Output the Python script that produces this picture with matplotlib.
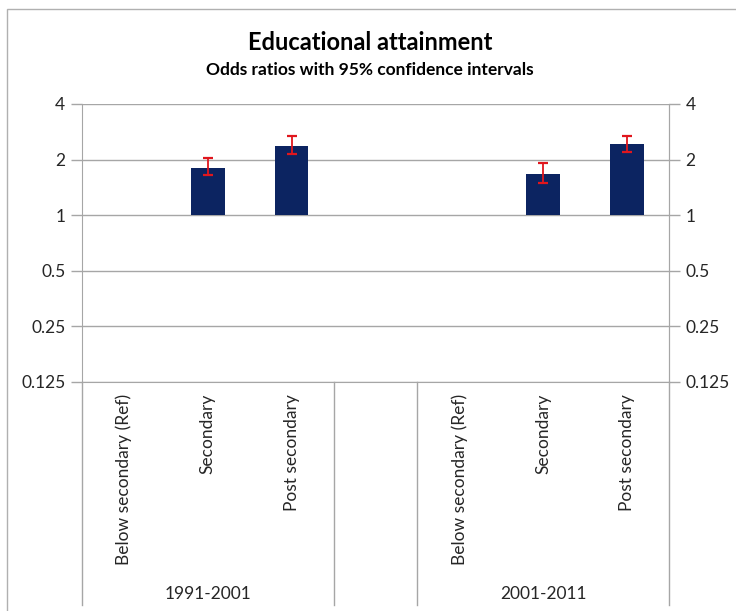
import matplotlib.pyplot as plt
import matplotlib.transforms as mtransforms
from matplotlib.patches import Rectangle
import numpy as np

plt.rcParams['font.family'] = ['Lato', 'DejaVu Sans']

# Odds ratios with 95% confidence intervals by period
periods = ['1991-2001', '2001-2011']
categories = ['Below secondary (Ref)', 'Secondary', 'Post secondary']
odds_1991 = [1.0, 1.80, 2.36]
low_1991 = [np.nan, 1.65, 2.14]
high_1991 = [np.nan, 2.04, 2.67]
odds_2001 = [1.0, 1.67, 2.43]
low_2001 = [np.nan, 1.49, 2.20]
high_2001 = [np.nan, 1.91, 2.67]
yticks = [0.125, 0.25, 0.5, 1, 2, 4]
ytick_labels = ['0.125', '0.25', '0.5', '1', '2', '4']

bar_color = '#0c2461'
err_color = '#e0161d'
line_color = '#a6a6a6'
text_color = '#262626'
label_size = 12.5

fig = plt.figure(figsize=(7.36, 6.11), dpi=100)
fig.patches.append(Rectangle((7 / 736, -0.05), 1.0, 1.05 - 9 / 611, transform=fig.transFigure,
                             fill=False, edgecolor='#b0b0b0', linewidth=1.0))

ax = fig.add_axes([82 / 736, 1 - 382 / 611, 587 / 736, 278 / 611])

# slot positions: three categories, a blank slot, three categories
x1 = np.arange(3)
x2 = np.arange(3) + 4
odds = np.array(odds_1991 + odds_2001)
low = np.array(low_1991 + low_2001)
high = np.array(high_1991 + high_2001)
xs = np.concatenate([x1, x2])

ax.bar(xs, odds - 1, bottom=1, width=0.4, color=bar_color, zorder=3)
yerr = np.vstack([odds - low, high - odds])
ax.errorbar(xs, odds, yerr=yerr, fmt='none', ecolor=err_color, elinewidth=1.3,
            capsize=3.5, capthick=1.6, zorder=4)

ax.set_yscale('log', base=2)
ax.set_ylim(0.125, 4)
ax.set_xlim(-0.5, 6.5)
ax.set_yticks(yticks)
ax.set_yticklabels(ytick_labels)
ax.minorticks_off()
ax.set_xticks([])
ax.grid(axis='y', color=line_color, linewidth=1.0, zorder=0)
ax.spines['top'].set_visible(False)
for s in ['left', 'right', 'bottom']:
    ax.spines[s].set_color(line_color)
ax.tick_params(axis='y', colors=line_color, labelcolor=text_color, labelsize=label_size,
               length=8, width=1.0, direction='out', pad=4)

axr = ax.twinx()
axr.set_yscale('log', base=2)
axr.set_ylim(0.125, 4)
axr.set_yticks(yticks)
axr.set_yticklabels(ytick_labels)
axr.minorticks_off()
for s in ['top', 'bottom', 'left']:
    axr.spines[s].set_visible(False)
axr.spines['right'].set_color(line_color)
axr.tick_params(axis='y', colors=line_color, labelcolor=text_color, labelsize=label_size,
                length=8, width=1.0, direction='out', pad=4)

# category axis below the plot
trans = mtransforms.blended_transform_factory(ax.transData, ax.transAxes)
bottom_y = -(605 - 382) / 278
for xb in [-0.5, 2.5, 3.5, 6.5]:
    ax.plot([xb, xb], [0, bottom_y], transform=trans, color=line_color,
            linewidth=1.0, clip_on=False)
for x, label in zip(xs, categories * 2):
    ax.text(x, -(394 - 382) / 278, label, transform=trans, rotation=90,
            ha='center', va='top', fontsize=label_size, color=text_color)
for x, label in zip([1, 5], periods):
    ax.text(x, -(594 - 382) / 278, label, transform=trans,
            ha='center', va='center', fontsize=label_size, color=text_color)

fig.text(0.503, 1 - 42 / 611, 'Educational attainment', ha='center', va='center',
         fontsize=17, fontweight='bold', color='black')
fig.text(0.503, 1 - 70 / 611, 'Odds ratios with 95% confidence intervals', ha='center',
         va='center', fontsize=12.5, fontweight='bold', color='black')

fig.savefig('out.png', dpi=100)
